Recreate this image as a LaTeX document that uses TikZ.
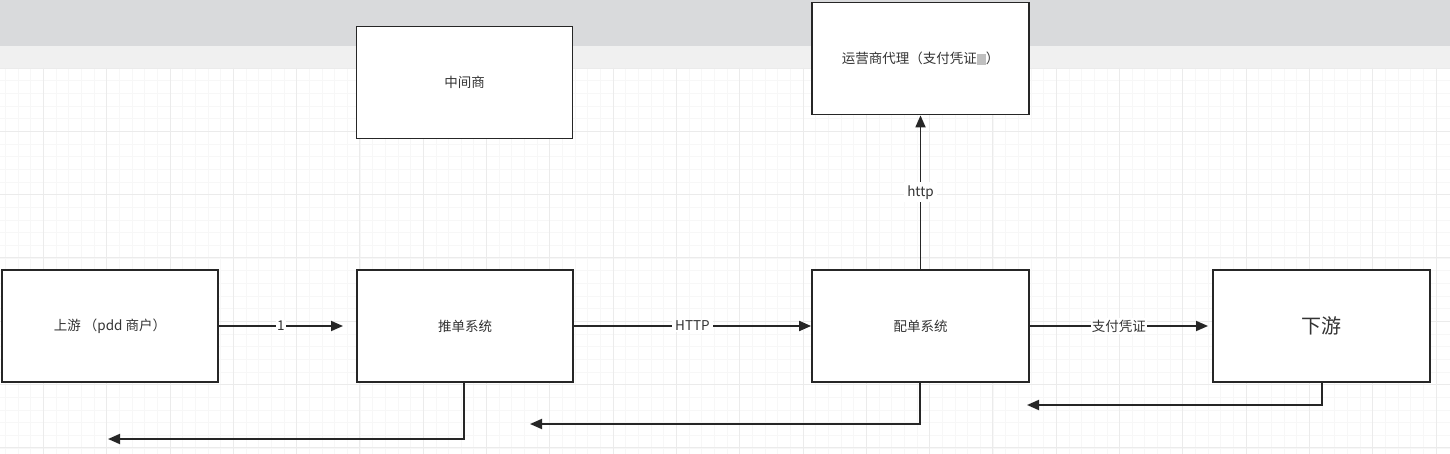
\documentclass[tikz,border=0pt]{standalone}
\usepackage{fontspec}
\setmainfont{Noto Sans CJK SC}
\usetikzlibrary{arrows.meta}
\definecolor{txt}{HTML}{333333}
\definecolor{band}{HTML}{D9DADC}
\definecolor{bandlight}{HTML}{F0F0F0}
\begin{document}
\begin{tikzpicture}[x=1pt,y=-1pt,
  box/.style={draw=black!85,line width=1.8pt,fill=white,minimum width=#1,minimum height=112pt,inner sep=0pt,text=txt,font=\fontsize{13.5}{15}\selectfont},
  box/.default=216pt,
  conn/.style={line width=1.8pt,draw=black!85,-{Triangle[length=12pt,width=10pt]}},
  lbl/.style={fill=white,inner xsep=3pt,inner ysep=1.5pt,text=txt,font=\fontsize{13.5}{15}\selectfont}]
\useasboundingbox (0,0) rectangle (1450,454);
% background
\fill[white] (0,0) rectangle (1450,454);
\fill[band] (0,0) rectangle (1450,46);
\fill[bandlight] (0,46) rectangle (1450,68);
% grid
\foreach \i in {0,...,115} {
  \draw[black!3,line width=0.5pt] ({-20+\i*12.66},68) -- ({-20+\i*12.66},454);
}
\foreach \j in {0,...,30} {
  \draw[black!3,line width=0.5pt] (0,{68+\j*12.66}) -- (1450,{68+\j*12.66});
}
\foreach \i in {0,...,23} {
  \draw[black!8,line width=0.8pt] ({-20+\i*63.3},68) -- ({-20+\i*63.3},454);
}
\foreach \j in {0,...,6} {
  \draw[black!8,line width=0.8pt] (0,{68+\j*63.3}) -- (1450,{68+\j*63.3});
}
% nodes
\node[box] (mid) at (464.5,82.5) {中间商};
\node[box=217pt] (op) at (920.5,58.5) {运营商代理（支付凭证\textcolor{black!25}{\rule[-1pt]{9pt}{11pt}}）};
\node[box] (up) at (110,326) {上游 （pdd 商户）};
\node[box] (push) at (465,326) {推单系统};
\node[box=217pt] (match) at (920.5,326) {配单系统};
\node[box=217pt,font=\fontsize{20}{23}\selectfont] (down) at (1321.5,326) {下游};
% coordinates for return paths
\coordinate (r1) at (1322,405);
\coordinate (r1e) at (1027,405);
\coordinate (r2) at (920,424);
\coordinate (r2e) at (530,424);
\coordinate (r3) at (464,439);
\coordinate (r3e) at (108,439);
\coordinate (a1) at (343,326);
\coordinate (a3) at (1208,326);
% connectors
\draw[conn] (up.east) -- node[lbl,inner xsep=1pt] {1} (a1);
\draw[conn] (push.east) -- node[lbl] {HTTP} (match.west);
\draw[conn] (match.east) -- node[lbl,inner xsep=1pt] {支付凭证} (a3);
\draw[conn] (match.north) -- node[lbl,inner ysep=3pt] {http} (op.south);
\draw[conn] (down.south -| r1) -- (r1) -- (r1e);
\draw[conn] (match.south -| r2) -- (r2) -- (r2e);
\draw[conn] (push.south -| r3) -- (r3) -- (r3e);
\end{tikzpicture}
\end{document}
